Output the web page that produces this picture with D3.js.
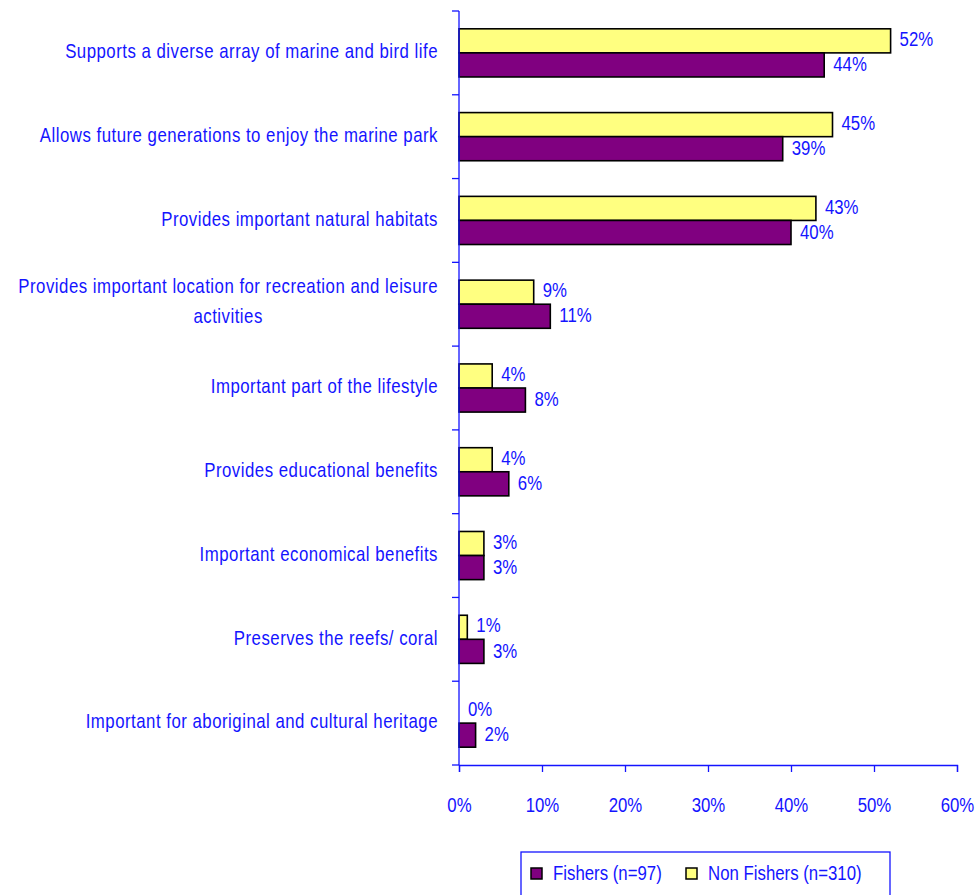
<!DOCTYPE html>
<html>
<head>
<meta charset="utf-8">
<script src="https://cdn.jsdelivr.net/npm/d3@7"></script>
<style>
  body { margin: 0; background: #fff; }
  svg { display: block; font-family: "Liberation Sans", Arial, sans-serif; }
</style>
</head>
<body>
<div id="chart"></div>
<script>
const categories = [
  "Supports a diverse array of marine and bird life",
  "Allows future generations to enjoy the marine park",
  "Provides important natural habitats",
  "Provides important location for recreation and leisure|activities",
  "Important part of the lifestyle",
  "Provides educational benefits",
  "Important economical benefits",
  "Preserves the reefs/ coral",
  "Important for aboriginal and cultural heritage"
];
const fishers = [44, 39, 40, 11, 8, 6, 3, 3, 2];
const nonFishers = [52, 45, 43, 9, 4, 4, 3, 1, 0];
const xTicks = [0, 10, 20, 30, 40, 50, 60];
const seriesNames = ["Fishers (n=97)", "Non Fishers (n=310)"];

const width = 979, height = 895;
const blue = "#1414ff";
const purple = "#800080", yellow = "#ffff80";
const fs = 20.5;     // tall glyphs, squeezed sideways like the original
const sx = 0.82;

const at = (px, py) => `translate(${px},${py}) scale(${sx},1)`;

const svg = d3.select("#chart").append("svg")
    .attr("width", width)
    .attr("height", height);

const x = d3.scaleLinear().domain([0, 60]).range([459, 957]);
const y = d3.scaleBand().domain(d3.range(categories.length)).range([11, 765]);
const inner = d3.scaleBand().domain(["non", "fish"]).range([0, y.bandwidth()]).paddingOuter(0.74);

const rows = categories.map((c, i) => ({c, i, fish: fishers[i], non: nonFishers[i]}));

// bars
const grp = svg.append("g").selectAll("g").data(rows).join("g")
    .attr("transform", d => `translate(0,${y(d.i)})`);

grp.append("rect")
    .attr("x", x(0))
    .attr("y", inner("non"))
    .attr("width", d => x(d.non) - x(0))
    .attr("height", inner.bandwidth())
    .attr("fill", yellow)
    .attr("stroke", d => d.non > 0 ? "#000" : "none")
    .attr("stroke-width", 1.6);

grp.append("rect")
    .attr("x", x(0))
    .attr("y", inner("fish"))
    .attr("width", d => x(d.fish) - x(0))
    .attr("height", inner.bandwidth())
    .attr("fill", purple)
    .attr("stroke", "#000")
    .attr("stroke-width", 1.6);

grp.append("text")
    .attr("transform", d => at(x(d.non) + 9, inner("non") + inner.bandwidth() / 2 - 2))
    .attr("dy", "0.35em")
    .attr("fill", blue)
    .attr("font-size", fs)
    .text(d => d.non + "%");

grp.append("text")
    .attr("transform", d => at(x(d.fish) + 9, inner("fish") + inner.bandwidth() / 2 - 1))
    .attr("dy", "0.35em")
    .attr("fill", blue)
    .attr("font-size", fs)
    .text(d => d.fish + "%");

// category labels
grp.each(function(d) {
  const lines = d.c.split("|");
  const cy = y.bandwidth() / 2 - 2;
  const t = d3.select(this).append("text")
      .attr("fill", blue)
      .attr("font-size", fs)
      .attr("letter-spacing", 0.6)
      .attr("text-anchor", "end")
      .attr("dy", "0.35em");
  if (lines.length === 1) {
    t.attr("transform", at(438, cy)).text(lines[0]);
  } else {
    t.attr("transform", at(438, cy - 16)).text(lines[0]);
    const w = t.node().getComputedTextLength() * sx;
    d3.select(this).append("text")
        .attr("fill", blue)
        .attr("font-size", fs)
        .attr("letter-spacing", 0.6)
        .attr("text-anchor", "middle")
        .attr("dy", "0.35em")
        .attr("transform", at(438 - w / 2, cy + 14))
        .text(lines[1]);
  }
});

// y axis
const yAxis = svg.append("g").attr("stroke", blue).attr("stroke-width", 1.3);
yAxis.append("line").attr("x1", x(0)).attr("x2", x(0)).attr("y1", 11).attr("y2", 765);
yAxis.selectAll("line.tk").data(d3.range(categories.length + 1)).join("line")
    .attr("class", "tk")
    .attr("x1", x(0) - 7).attr("x2", x(0))
    .attr("y1", i => 11 + i * y.bandwidth())
    .attr("y2", i => 11 + i * y.bandwidth());

// x axis
const xAxis = svg.append("g")
    .attr("transform", "translate(0,765)")
    .call(d3.axisBottom(x).tickValues(xTicks).tickFormat(d => d + "%").tickSize(7).tickPadding(25));
xAxis.select(".domain").attr("stroke", blue).attr("stroke-width", 1.3);
xAxis.selectAll(".tick line").attr("stroke", blue).attr("stroke-width", 1.3);
xAxis.selectAll(".tick text")
    .attr("fill", blue)
    .attr("font-size", fs)
    .attr("font-family", "'Liberation Sans', Arial, sans-serif")
    .attr("transform", `scale(${sx},1)`);

// legend
const legend = svg.append("g");
legend.append("rect")
    .attr("x", 521).attr("y", 852).attr("width", 369).attr("height", 60)
    .attr("fill", "#fff").attr("stroke", blue).attr("stroke-width", 1.3);
const items = [
  {name: seriesNames[0], color: purple, x: 531},
  {name: seriesNames[1], color: yellow, x: 686}
];
const li = legend.selectAll("g.item").data(items).join("g")
    .attr("class", "item")
    .attr("transform", d => `translate(${d.x},868)`);
li.append("rect").attr("width", 11).attr("height", 11)
    .attr("fill", d => d.color).attr("stroke", "#000").attr("stroke-width", 1.5);
li.append("text")
    .attr("transform", at(22, 5))
    .attr("dy", "0.35em")
    .attr("fill", blue).attr("font-size", fs)
    .text(d => d.name);
</script>
</body>
</html>
